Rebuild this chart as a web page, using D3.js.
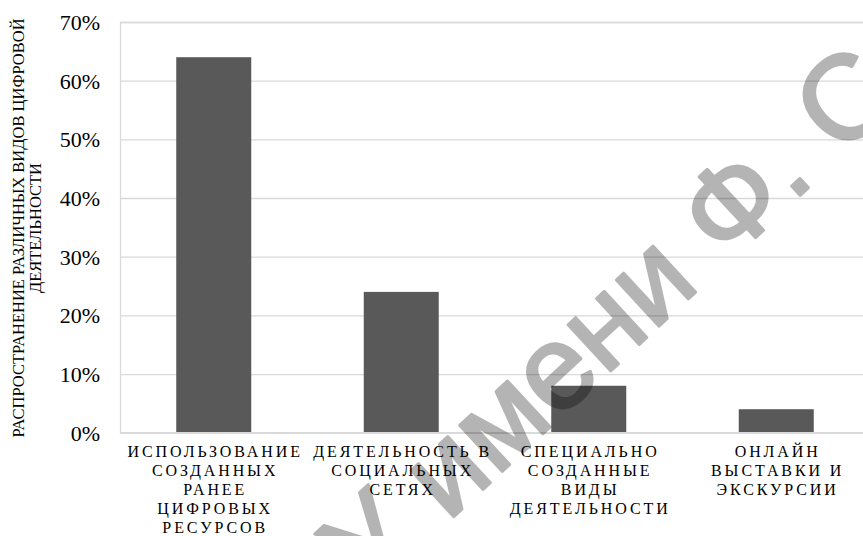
<!DOCTYPE html>
<html><head><meta charset="utf-8">
<script src="https://cdn.jsdelivr.net/npm/d3@7"></script>
<style>body{margin:0;background:#fff}svg{display:block}</style>
</head><body>
<svg id="c" width="863" height="536"></svg>
<script>
const categories = ["ИСПОЛЬЗОВАНИЕ СОЗДАННЫХ РАНЕЕ ЦИФРОВЫХ РЕСУРСОВ","ДЕЯТЕЛЬНОСТЬ В СОЦИАЛЬНЫХ СЕТЯХ","СПЕЦИАЛЬНО СОЗДАННЫЕ ВИДЫ ДЕЯТЕЛЬНОСТИ","ОНЛАЙН ВЫСТАВКИ И ЭКСКУРСИИ"];
const categoryLines = [["ИСПОЛЬЗОВАНИЕ","СОЗДАННЫХ","РАНЕЕ","ЦИФРОВЫХ","РЕСУРСОВ"],["ДЕЯТЕЛЬНОСТЬ В","СОЦИАЛЬНЫХ","СЕТЯХ"],["СПЕЦИАЛЬНО","СОЗДАННЫЕ","ВИДЫ","ДЕЯТЕЛЬНОСТИ"],["ОНЛАЙН","ВЫСТАВКИ И","ЭКСКУРСИИ"]];
const values = [0.64, 0.24, 0.08, 0.04];
const yTicks = [0, 0.1, 0.2, 0.3, 0.4, 0.5, 0.6, 0.7];
const yTitleLines = ["РАСПРОСТРАНЕНИЕ РАЗЛИЧНЫХ ВИДОВ ЦИФРОВОЙ","ДЕЯТЕЛЬНОСТИ"];
const watermark = "ГГУ имени Ф. Скорины";

const svg = d3.select("#c");
const serif = "'Liberation Serif','Times New Roman',serif";
const x = d3.scaleBand().domain(categories).range([120, 870]).paddingInner(0.6).paddingOuter(0.3);
const y = d3.scaleLinear().domain([0, 0.7]).range([432.7, 22]);

// gridlines + tick labels
const yAxis = d3.axisLeft(y).tickValues(yTicks).tickSize(-(870-120)).tickFormat(d3.format(".0%")).tickPadding(20);
const gy = svg.append("g").attr("transform","translate(120,0)").call(yAxis);
gy.select(".domain").attr("stroke","#d9d9d9").attr("stroke-width",1.3);
gy.selectAll(".tick line").attr("stroke","#d9d9d9").attr("stroke-width",1.3);
gy.selectAll(".tick text").attr("font-family",serif).attr("font-size",22).attr("fill","#000").attr("dy","0.34em");

// bars
svg.append("g").selectAll("rect").data(values).join("rect")
  .attr("x",(d,i)=>x(categories[i])).attr("width",x.bandwidth())
  .attr("y",d=>y(d)).attr("height",d=>y(0)-y(d)).attr("fill","#595959");

// bottom axis line
svg.append("line").attr("x1",120).attr("x2",870).attr("y1",y(0)).attr("y2",y(0)).attr("stroke","#d9d9d9").attr("stroke-width",1.5);

// category labels
categoryLines.forEach((lines,i)=>{
  const t = svg.append("text").attr("font-family",serif).attr("font-size",16).attr("letter-spacing",2.9)
    .attr("text-anchor","middle").attr("fill","#000");
  lines.forEach((l,j)=>t.append("tspan").attr("x",x(categories[i])+x.bandwidth()/2+1.45).attr("y",457+j*18.9).text(l));
});

// y title
const yt = svg.append("text").attr("font-family",serif).attr("font-size",16.5).attr("text-anchor","middle").attr("fill","#000")
  .attr("transform","translate(0,228) rotate(-90)");
yTitleLines.forEach((l,j)=>yt.append("tspan").attr("x",0).attr("y",24+j*17).text(l));

// watermark (fitted so that the first "и" and "Ф" fall where they are in the picture)
const wg = svg.append("g").attr("opacity",0.29);
const wm = wg.append("text").attr("font-family","'Liberation Sans',Arial,sans-serif").attr("font-size",100)
  .attr("fill","#000").attr("stroke","#000").attr("stroke-width",2.5).attr("stroke-linejoin","round").text(watermark);
const node = wm.node();
const i1 = watermark.indexOf("и"), i2 = watermark.indexOf("Ф");
const e1 = node.getExtentOfChar(i1), e2 = node.getExtentOfChar(i2);
const P1 = [e1.x + e1.width/2, -26], P2 = [e2.x + e2.width/2, -36];
const Q1 = [451, 477], Q2 = [730, 202];
const dp = [P2[0]-P1[0], P2[1]-P1[1]], dq = [Q2[0]-Q1[0], Q2[1]-Q1[1]];
const s = Math.hypot(dq[0],dq[1]) / Math.hypot(dp[0],dp[1]);
const ang = Math.atan2(dq[1],dq[0]) - Math.atan2(dp[1],dp[0]);
const c = Math.cos(ang)*s, sn = Math.sin(ang)*s;
const tx = Q1[0] - (c*P1[0] - sn*P1[1]), ty = Q1[1] - (sn*P1[0] + c*P1[1]);
wm.attr("transform", `matrix(${c},${sn},${-sn},${c},${tx},${ty})`);
</script>
</body></html>
